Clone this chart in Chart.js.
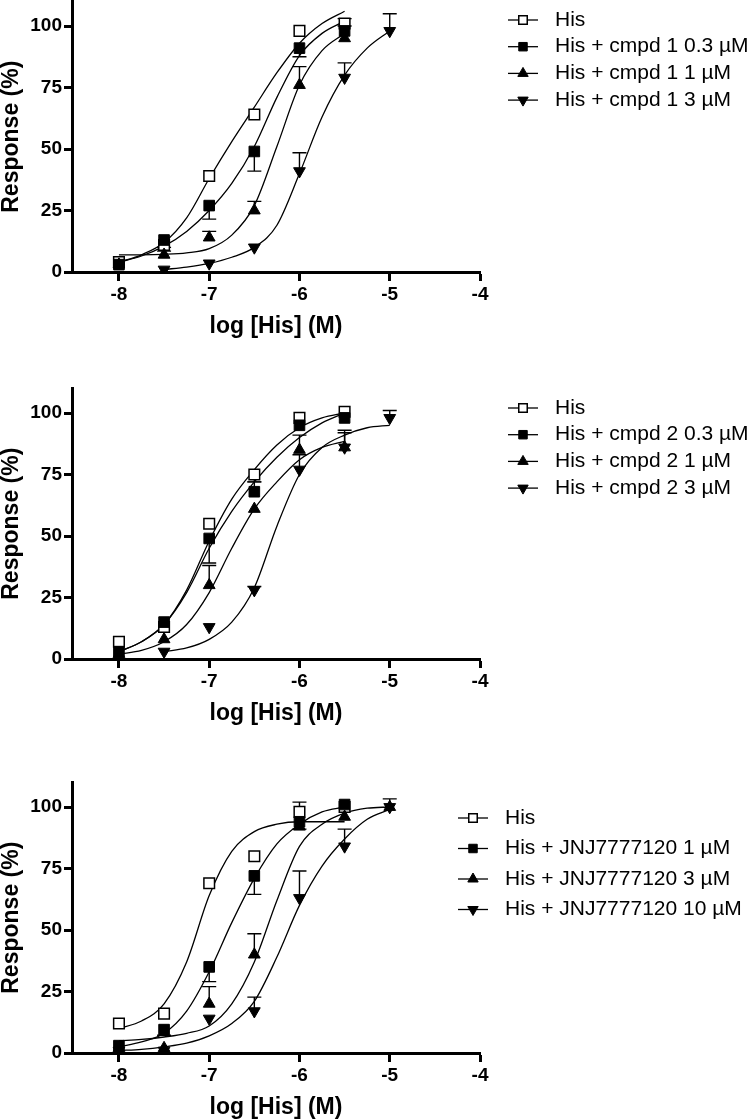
<!DOCTYPE html>
<html>
<head>
<meta charset="utf-8">
<script src="https://cdn.jsdelivr.net/npm/chart.js@4.4.1/dist/chart.umd.min.js"></script>
<style>
html,body{margin:0;padding:0;background:#fff;overflow:hidden}
body{width:756px;height:1120px;position:relative}
.panel{position:absolute;left:0;width:756px;height:352px}
</style>
</head>
<body>
<div class="panel" style="top:-12px"><canvas id="c1" width="756" height="352"></canvas></div>
<div class="panel" style="top:375px"><canvas id="c2" width="756" height="352"></canvas></div>
<div class="panel" style="top:769px"><canvas id="c3" width="756" height="352"></canvas></div>
<script>
const FONT = '"Liberation Sans", Arial, Helvetica, sans-serif';

// axis ticks
const xTicks = [-8, -7, -6, -5, -4];
const yTicks = [0, 25, 50, 75, 100];

// log [His] doses of the measured points
const dosesA = [-8, -7.5, -7, -6.5, -6, -5.5];
const dosesB = [-7.5, -7, -6.5, -6, -5.5, -5];
const dosesC = [-8, -7.5, -7, -6.5, -6, -5.5, -5];
const fitA = [-8, -7.75, -7.5, -7.25, -7, -6.75, -6.5, -6.25, -6, -5.75, -5.5];
const fitB = [-7.5, -7.25, -7, -6.75, -6.5, -6.25, -6, -5.75, -5.5, -5.25, -5];
const fitC = [-8, -7.75, -7.5, -7.25, -7, -6.75, -6.5, -6.25, -6, -5.75, -5.5, -5.25, -5];

// ---- panel 1: cmpd 1
const p1Labels = ['His', 'His + cmpd 1 0.3 \u00b5M', 'His + cmpd 1 1 \u00b5M', 'His + cmpd 1 3 \u00b5M'];
const p1His    = [4, 11, 39, 64, 98, 101];
const p1HisErr = [0, 0, 0, 0, 0, 2];
const p1HisFit = [4, 7, 12, 22, 38, 53, 67, 81, 93, 101, 106];
const p1C03    = [3, 13, 27, 49, 91, 98];
const p1C03Err = [0, -3, -5.5, -8, -3.5, 0];
const p1C03Fit = [4, 6.5, 10.5, 16.5, 25, 36, 51, 71, 88, 97, 102];
const p1C1     = [3, 7, 14, 25, 76, 95];
const p1C1Err  = [0, 1.5, 2.5, 3.7, 7.5, 5];
const p1C1Fit  = [7, 7, 7.2, 7.8, 9.5, 15, 27, 51, 76, 90, 97];
const p1C3     = [1, 3.5, 10, 41, 79, 98];
const p1C3Err  = [0, 0, 0, 7.5, 6, 7];
const p1C3Fit  = [1, 2, 3.5, 6, 10, 19, 40, 63, 80, 91, 98];

// ---- panel 2: cmpd 2
const p2Labels = ['His', 'His + cmpd 2 0.3 \u00b5M', 'His + cmpd 2 1 \u00b5M', 'His + cmpd 2 3 \u00b5M'];
const p2His    = [7, 13, 55, 75, 98, 100.5];
const p2HisErr = [0, 0, 0, -3, 0, 0];
const p2HisFit = [3, 7, 14, 28, 48, 65, 77, 87, 94, 98, 100];
const p2C03    = [3, 15, 49, 68, 95, 98];
const p2C03Err = [0, 0, -10, 4, 0, 0];
const p2C03Fit = [3, 7, 14, 27, 45, 60, 72, 82, 90, 96, 100];
const p2C1     = [2, 8, 30, 61, 85, 86];
const p2C1Err  = [0, 0, 8, 0, 6, 7];
const p2C1Fit  = [2, 3.5, 7, 14, 27, 45, 61, 72, 81, 86, 88.5];
const p2C3     = [3, 13, 28, 77, 86, 98];
const p2C3Err  = [0, 0, 1.5, 6, 6, 3];
const p2C3Fit  = [3, 4.5, 8, 15, 29, 54, 75, 86, 91, 94, 95];

// ---- panel 3: JNJ7777120
const p3Labels = ['His', 'His + JNJ7777120 1 \u00b5M', 'His + JNJ7777120 3 \u00b5M', 'His + JNJ7777120 10 \u00b5M'];
const p3His    = [12, 16, 69, 80, 98, 100];
const p3HisErr = [0, 0, 0, 0, 4, 0];
const p3HisFit = [10, 13, 20, 37, 64, 82, 90, 93, 94, 94, 94];
const p3J1     = [3, 9.5, 35, 72, 94, 101];
const p3J1Err  = [0, -2.3, -6, -7.5, -3, 0];
const p3J1Fit  = [2.5, 4.5, 8, 17, 33, 53, 71, 85, 93, 98, 100];
const p3J3     = [2, 2, 20, 40, 92, 96, 100];
const p3J3Err  = [0, 0, 7, 8.5, 0, 0, 0];
const p3J3Fit  = [5, 5.5, 6.5, 8, 11, 20, 37, 62, 84, 93, 97.5, 99.5, 100];
const p3J10    = [1, 1, 14, 17, 63, 84, 100];
const p3J10Err = [0, 0, 0, 5.7, 11, 7, 3.3];
const p3J10Fit = [1, 1.5, 2.5, 4, 7, 12, 21, 39, 60, 76, 87, 95, 99];

// marker looks: open square, filled square, triangle up, triangle down
const markers = [
  {style:'rect',     r:7.5, fill:'#fff', rot:0,   bw:1.5},
  {style:'rect',     r:7.5, fill:'#000', rot:0,   bw:1},
  {style:'triangle', r:6.8, fill:'#000', rot:0,   bw:1},
  {style:'triangle', r:6.8, fill:'#000', rot:180, bw:1}
];

function pts(xs, ys) { return xs.map((v,i)=>({x:v, y:ys[i]})); }

function drawMarker(ctx, m, x, y, r) {
  ctx.beginPath();
  if (m.style === 'rect') {
    const s = r * Math.SQRT1_2;
    ctx.rect(x - s, y - s, 2*s, 2*s);
  } else {
    let a = m.rot * Math.PI / 180;
    ctx.moveTo(x + Math.sin(a)*r, y - Math.cos(a)*r);
    for (let k=0;k<2;k++) { a += 2*Math.PI/3; ctx.lineTo(x + Math.sin(a)*r, y - Math.cos(a)*r); }
    ctx.closePath();
  }
  ctx.fillStyle = m.fill; ctx.fill();
  ctx.lineWidth = m.bw; ctx.strokeStyle = '#000'; ctx.stroke();
}

// one-sided SEM bars, as in the original
const errorBars = {
  id: 'errorBars',
  beforeDatasetsDraw(chart) {
    const {ctx, scales:{x, y}} = chart;
    ctx.save();
    ctx.strokeStyle = '#000'; ctx.lineWidth = 1.4;
    chart.data.datasets.forEach(ds => {
      if (!ds.errors) return;
      ds.data.forEach((p,i) => {
        const e = ds.errors[i];
        if (!e) return;
        const px = x.getPixelForValue(p.x), y0 = y.getPixelForValue(p.y), y1 = y.getPixelForValue(p.y + e);
        ctx.beginPath();
        ctx.moveTo(px, y0); ctx.lineTo(px, y1);
        ctx.moveTo(px - 7, y1); ctx.lineTo(px + 7, y1);
        ctx.stroke();
      });
    });
    ctx.restore();
  }
};

// legend: line with marker, then label
const seriesKey = {
  id: 'seriesKey',
  afterDraw(chart, args, o) {
    const ctx = chart.ctx;
    ctx.save();
    ctx.font = '21px ' + FONT;
    ctx.textBaseline = 'middle';
    chart.data.datasets.filter(d=>d.key!==undefined).forEach(d => {
      const yy = o.top + d.key * o.step;
      ctx.beginPath();
      ctx.moveTo(o.lineX, yy); ctx.lineTo(o.lineX + 30, yy);
      ctx.lineWidth = 1.3; ctx.strokeStyle = '#000'; ctx.stroke();
      drawMarker(ctx, markers[d.key], o.lineX + 15, yy, 6);
      ctx.fillStyle = '#000';
      ctx.fillText(d.label, o.textX, yy);
    });
    ctx.restore();
  }
};

function makePanel(id, list, key) {
  const datasets = [];
  list.forEach(s => datasets.push({
    type:'line', data:pts(s.fx, s.fy), borderColor:'#000', borderWidth:1.3,
    pointRadius:0, cubicInterpolationMode:'monotone', fill:false, order:20
  }));
  list.forEach((s,k) => {
    const m = markers[k];
    datasets.push({
      type:'scatter', label:s.label, key:k, data:pts(s.x, s.y), errors:s.err,
      pointStyle:m.style, pointRadius:m.r, pointRotation:m.rot,
      pointBackgroundColor:m.fill, pointBorderColor:'#000', pointBorderWidth:m.bw,
      order:10 - k
    });
  });
  const tickFont = {family:FONT, size:19, weight:'bold'};
  return new Chart(document.getElementById(id), {
    type:'scatter',
    data:{datasets},
    plugins:[errorBars, seriesKey],
    options:{
      responsive:false, animation:false, events:[],
      layout:{padding:{left:0, top:12, right:276, bottom:0}},
      plugins:{legend:{display:false}, tooltip:{enabled:false}, seriesKey:key},
      scales:{
        x:{type:'linear', min:-8.52, max:-4,
          afterBuildTicks:s=>{ s.ticks = xTicks.map(v=>({value:v})); },
          afterFit:s=>{ s.height = 68; },
          grid:{display:true, drawOnChartArea:false, drawTicks:true, tickLength:9, tickWidth:3, tickColor:'#000'},
          border:{display:true, width:3, color:'#000'},
          ticks:{color:'#000', font:tickFont, padding:2, maxRotation:0, callback:v=>String(v)},
          title:{display:true, text:'log [His] (M)', color:'#000', font:{family:FONT, size:23, weight:'bold', lineHeight:1.2}, padding:0}
        },
        y:{type:'linear', min:0, max:110,
          afterBuildTicks:s=>{ s.ticks = yTicks.map(v=>({value:v})); },
          afterFit:s=>{ s.width = 72; },
          grid:{display:true, drawOnChartArea:false, drawTicks:true, tickLength:8, tickWidth:3, tickColor:'#000'},
          border:{display:true, width:3, color:'#000'},
          ticks:{color:'#000', font:tickFont, padding:2, callback:v=>String(v)},
          title:{display:true, text:'Response (%)', color:'#000', font:{family:FONT, size:23, weight:'bold', lineHeight:1}, padding:0}
        }
      }
    }
  });
}

makePanel('c1', [
  {label:p1Labels[0], x:dosesA, y:p1His, err:p1HisErr, fx:fitA, fy:p1HisFit},
  {label:p1Labels[1], x:dosesA, y:p1C03, err:p1C03Err, fx:fitA, fy:p1C03Fit},
  {label:p1Labels[2], x:dosesA, y:p1C1,  err:p1C1Err,  fx:fitA, fy:p1C1Fit},
  {label:p1Labels[3], x:dosesB, y:p1C3,  err:p1C3Err,  fx:fitB, fy:p1C3Fit}
], {lineX:508, textX:555, top:32, step:26.7});

makePanel('c2', [
  {label:p2Labels[0], x:dosesA, y:p2His, err:p2HisErr, fx:fitA, fy:p2HisFit},
  {label:p2Labels[1], x:dosesA, y:p2C03, err:p2C03Err, fx:fitA, fy:p2C03Fit},
  {label:p2Labels[2], x:dosesA, y:p2C1,  err:p2C1Err,  fx:fitA, fy:p2C1Fit},
  {label:p2Labels[3], x:dosesB, y:p2C3,  err:p2C3Err,  fx:fitB, fy:p2C3Fit}
], {lineX:508, textX:555, top:33, step:26.7});

makePanel('c3', [
  {label:p3Labels[0], x:dosesA, y:p3His, err:p3HisErr, fx:fitA, fy:p3HisFit},
  {label:p3Labels[1], x:dosesA, y:p3J1,  err:p3J1Err,  fx:fitA, fy:p3J1Fit},
  {label:p3Labels[2], x:dosesC, y:p3J3,  err:p3J3Err,  fx:fitC, fy:p3J3Fit},
  {label:p3Labels[3], x:dosesC, y:p3J10, err:p3J10Err, fx:fitC, fy:p3J10Fit}
], {lineX:458, textX:505, top:49, step:30.5});
</script>
</body>
</html>
